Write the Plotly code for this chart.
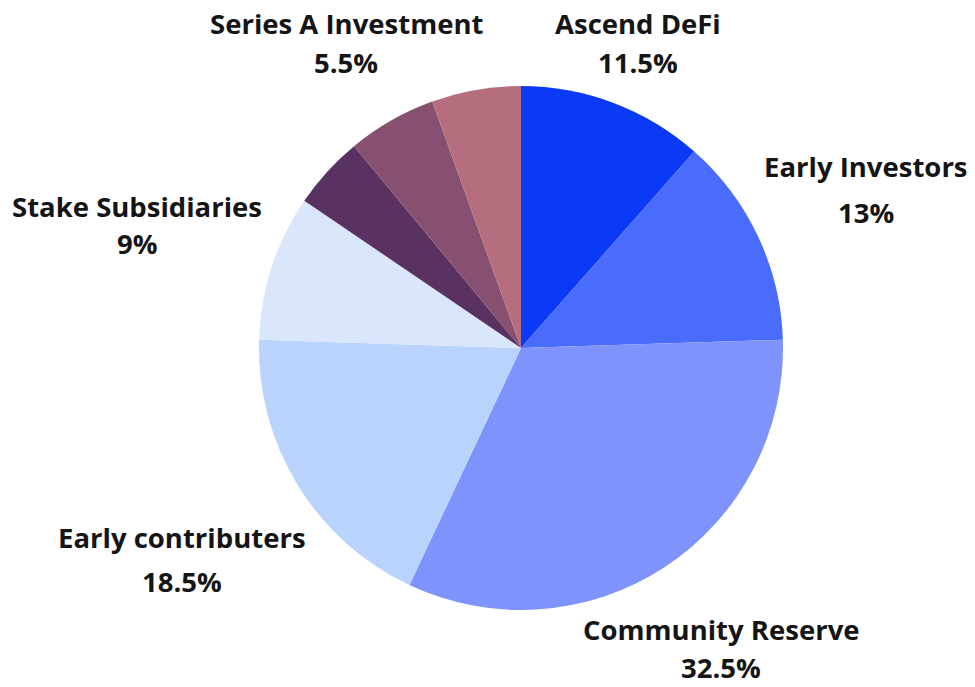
import plotly.graph_objects as go

# Data (clockwise from 12 o'clock)
labels = ["Ascend DeFi", "Early Investors", "Community Reserve", "Early contributers",
          "Stake Subsidiaries", "Unlabeled 1", "Unlabeled 2", "Series A Investment"]
values = [11.5, 13, 32.5, 18.5, 9, 4.5, 5.5, 5.5]
shown = [True, True, True, True, True, False, False, True]
colors = ["#0a3af6", "#4a6cfd", "#7f93fd", "#b9d3fc", "#d9e6fb", "#5a3262", "#875070", "#b56e7d"]

W, H = 975, 687
# label anchor positions in pixels (name line center, percent line center)
label_pos = {
    "Ascend DeFi": (638, 24, 62),
    "Early Investors": (866, 166, 212),
    "Community Reserve": (721, 629, 667),
    "Early contributers": (182, 537, 581),
    "Stake Subsidiaries": (137, 206, 244),
    "Series A Investment": (346, 24, 62),
}

cx, cy, r = 521, 348, 262

fig = go.Figure(go.Pie(
    labels=labels,
    values=values,
    sort=False,
    direction="clockwise",
    rotation=0,
    marker=dict(colors=colors, line=dict(width=0)),
    textinfo="none",
    hoverinfo="label+value",
    domain=dict(x=[(cx - r) / W, (cx + r) / W], y=[(H - cy - r) / H, (H - cy + r) / H]),
    showlegend=False,
))

font = dict(family="Open Sans, sans-serif", size=27.5, color="#151515", weight=700)
annotations = []
for lab, val, s in zip(labels, values, shown):
    if not s:
        continue
    px, py1, py2 = label_pos[lab]
    annotations.append(dict(text=lab, x=px / W, y=1 - py1 / H, xref="paper", yref="paper",
                            xanchor="center", yanchor="middle", showarrow=False, font=font,
                            borderpad=0))
    annotations.append(dict(text=f"{val:g}%", x=px / W, y=1 - py2 / H, xref="paper", yref="paper",
                            xanchor="center", yanchor="middle", showarrow=False, font=font,
                            borderpad=0))

fig.update_layout(
    width=W, height=H,
    margin=dict(l=0, r=0, t=0, b=0),
    paper_bgcolor="white", plot_bgcolor="white",
    annotations=annotations,
)

fig.write_html("out.html")
